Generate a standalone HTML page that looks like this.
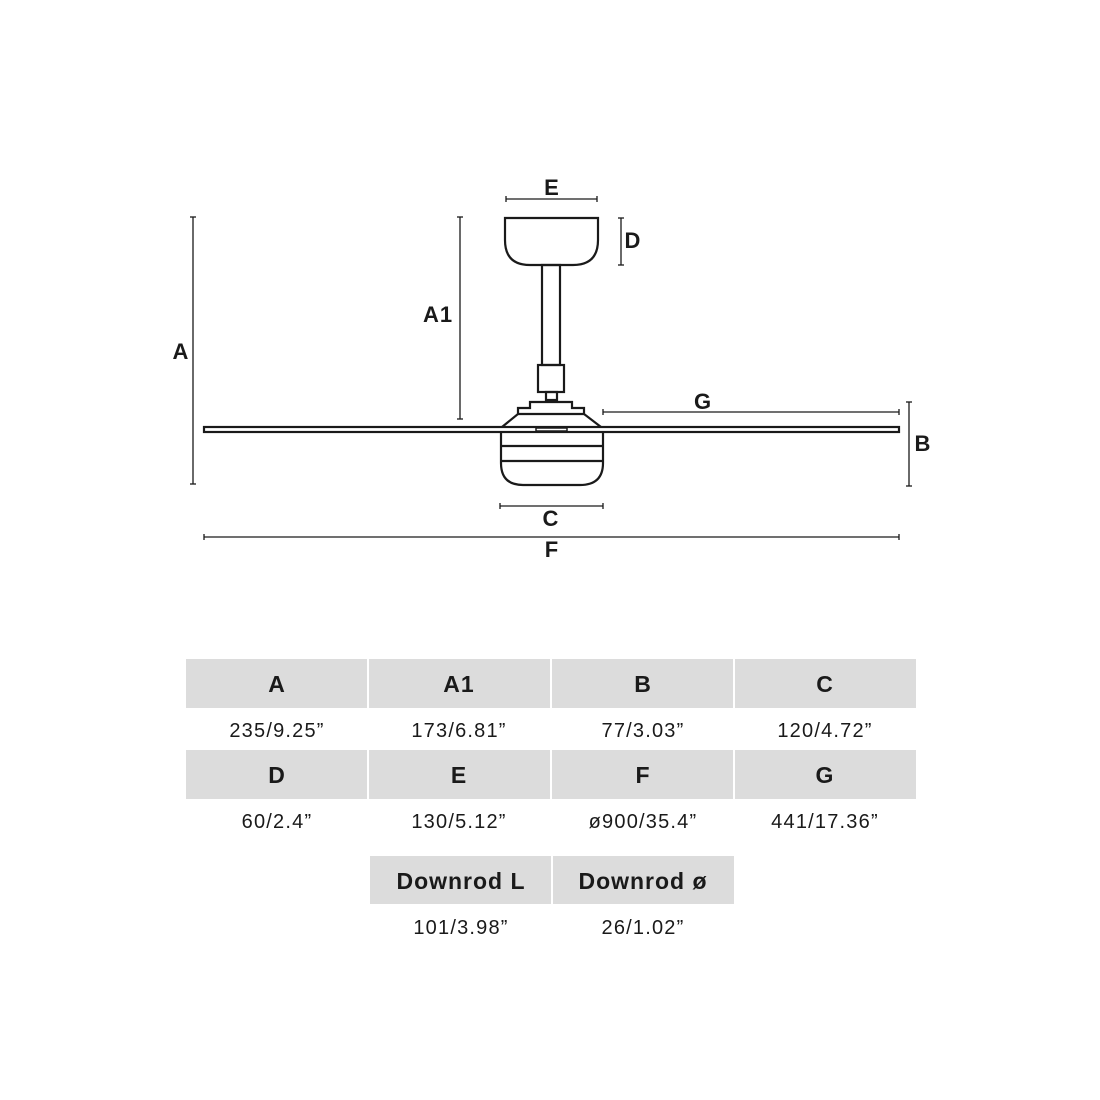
<!DOCTYPE html>
<html><head><style>html,body{margin:0;padding:0;background:#fff}svg{display:block}</style></head>
<body>
<svg width="1100" height="1100" viewBox="0 0 1100 1100" xmlns="http://www.w3.org/2000/svg" font-family="Liberation Sans, sans-serif">
<g fill="none" stroke="#1a1a1a">
<g stroke-width="1.3">
<line x1="193" y1="217" x2="193" y2="484"/><line x1="190" y1="217" x2="196" y2="217"/><line x1="190" y1="484" x2="196" y2="484"/>
<line x1="460" y1="217" x2="460" y2="419"/><line x1="457" y1="217" x2="463" y2="217"/><line x1="457" y1="419" x2="463" y2="419"/>
<line x1="506" y1="199" x2="597" y2="199"/><line x1="506" y1="196" x2="506" y2="202"/><line x1="597" y1="196" x2="597" y2="202"/>
<line x1="621" y1="218" x2="621" y2="265"/><line x1="618" y1="218" x2="624" y2="218"/><line x1="618" y1="265" x2="624" y2="265"/>
<line x1="603" y1="412" x2="899" y2="412"/><line x1="603" y1="409" x2="603" y2="415"/><line x1="899" y1="409" x2="899" y2="415"/>
<line x1="909" y1="402" x2="909" y2="486"/><line x1="906" y1="402" x2="912" y2="402"/><line x1="906" y1="486" x2="912" y2="486"/>
<line x1="500" y1="506" x2="603" y2="506"/><line x1="500" y1="503" x2="500" y2="509"/><line x1="603" y1="503" x2="603" y2="509"/>
<line x1="204" y1="537" x2="899" y2="537"/><line x1="204" y1="534" x2="204" y2="540"/><line x1="899" y1="534" x2="899" y2="540"/>
</g>
<g stroke-width="2.2">
<path d="M505 218 H598 V240 Q598 265 573 265 H530 Q505 265 505 240 Z"/>
<rect x="542" y="265" width="18" height="100"/>
<rect x="538" y="365" width="26" height="27"/>
<rect x="546" y="392" width="11" height="8"/>
<path d="M502 427 L518 414 V408 H530 V402 H572 V408 H584 V414 L601 427"/>
<line x1="518" y1="414" x2="584" y2="414"/>
<rect x="204" y="427" width="695" height="5"/>
<rect x="536" y="428" width="31" height="3" stroke-width="1.5"/>
<path d="M501 432 V463 Q501 485 523 485 H580 Q603 485 603 463 V432"/>
<line x1="501" y1="446" x2="603" y2="446"/>
<line x1="501" y1="461" x2="603" y2="461"/>
</g>
</g>
<g font-weight="bold" font-size="22" fill="#1a1a1a" text-anchor="middle" letter-spacing="1">
<text x="552" y="195">E</text>
<text x="633" y="248">D</text>
<text x="438" y="322">A1</text>
<text x="181" y="359">A</text>
<text x="703" y="409">G</text>
<text x="923" y="451">B</text>
<text x="551" y="526">C</text>
<text x="552" y="557">F</text>
</g>
<g fill="#dcdcdc">
<rect x="186" y="659" width="181" height="49"/><rect x="369" y="659" width="181" height="49"/><rect x="552" y="659" width="181" height="49"/><rect x="735" y="659" width="181" height="49"/>
<rect x="186" y="750" width="181" height="49"/><rect x="369" y="750" width="181" height="49"/><rect x="552" y="750" width="181" height="49"/><rect x="735" y="750" width="181" height="49"/>
<rect x="370" y="856" width="181" height="48"/><rect x="553" y="856" width="181" height="48"/>
</g>
<g font-weight="bold" font-size="23" fill="#1a1a1a" text-anchor="middle" letter-spacing="1">
<text x="277" y="692">A</text><text x="459" y="692">A1</text><text x="643" y="692">B</text><text x="825" y="692">C</text>
<text x="277" y="783">D</text><text x="459" y="783">E</text><text x="643" y="783">F</text><text x="825" y="783">G</text>
<text x="461" y="889">Downrod L</text><text x="643" y="889">Downrod ø</text>
</g>
<g font-size="20" fill="#1a1a1a" text-anchor="middle" letter-spacing="1.2">
<text x="277" y="737">235/9.25”</text><text x="459" y="737">173/6.81”</text><text x="643" y="737">77/3.03”</text><text x="825" y="737">120/4.72”</text>
<text x="277" y="828">60/2.4”</text><text x="459" y="828">130/5.12”</text><text x="643" y="828">ø900/35.4”</text><text x="825" y="828">441/17.36”</text>
<text x="461" y="934">101/3.98”</text><text x="643" y="934">26/1.02”</text>
</g>
</svg>
</body></html>
